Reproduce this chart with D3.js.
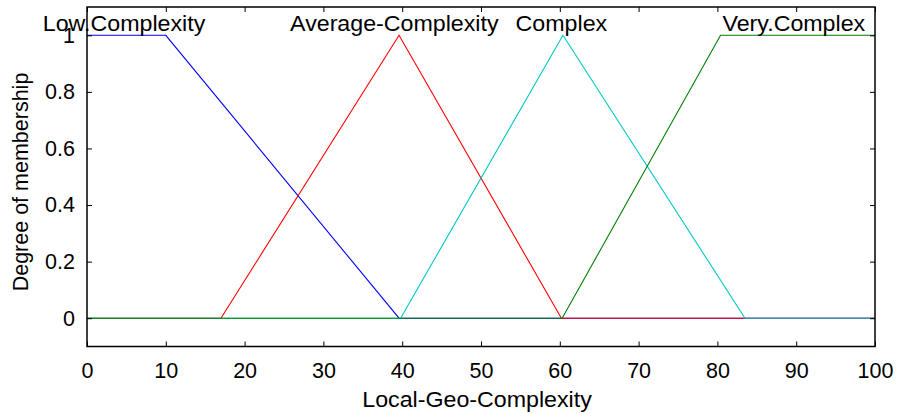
<!DOCTYPE html>
<html><head><meta charset="utf-8">
<script src="https://cdn.jsdelivr.net/npm/d3@7"></script>
<style>
html,body{margin:0;padding:0;background:#fff;}
svg{display:block;font-family:"Liberation Sans",Arial,sans-serif;}
</style></head>
<body><svg id="chart" width="898" height="414"></svg>
<script>
// Membership function breakpoints (x) and membership values (y)
const lowX = [0, 10, 39.6, 100];
const lowY = [1, 1, 0, 0];
const avgX = [0, 17, 39.6, 60.2, 100];
const avgY = [0, 0, 1, 0, 0];
const cpxX = [0, 39.8, 60.4, 83.5, 100];
const cpxY = [0, 0, 1, 0, 0];
const vcxX = [0, 60.3, 80.4, 100];
const vcxY = [0, 0, 1, 1];
const seriesNames = ["Low.Complexity", "Average-Complexity", "Complex", "Very.Complex"];
const labelX = [4.7, 39.0, 60.2, 89.7];
const xTicks = [0,10,20,30,40,50,60,70,80,90,100];
const yTicks = [0,0.2,0.4,0.6,0.8,1];
const xTitle = "Local-Geo-Complexity";
const yTitle = "Degree of membership";

const colors = ["#0000ff", "#ff0000", "#00c8c8", "#008000"];
const L = 87, R = 875, T = 7, B = 346.5;
const svg = d3.select("#chart");
const x = d3.scaleLinear().domain([0,100]).range([L,R]);
const y = d3.scaleLinear().domain([-0.1,1.1]).range([B,T]);
const fs = "21.5px";
const sx = 1.08;

const series = [[lowX,lowY],[avgX,avgY],[cpxX,cpxY],[vcxX,vcxY]];
const line = d3.line().x(d=>x(d[0])).y(d=>y(d[1]));
series.forEach((s,i)=>{
  const pts = s[0].map((v,j)=>[v, s[1][j]]);
  svg.append("path").attr("d", line(pts)).attr("fill","none")
    .attr("stroke", colors[i]).attr("stroke-width", 1.1);
});

// axes with inward ticks
const tl = 5;
svg.append("g").attr("transform",`translate(0,${B})`)
  .call(d3.axisBottom(x).tickValues(xTicks).tickSize(-tl).tickPadding(tl+11).tickFormat(d3.format("d")))
  .call(g=>{g.select(".domain").remove();g.selectAll("text").style("font-size",fs).attr("fill","#000");});
svg.append("g").attr("transform",`translate(0,${T})`)
  .call(d3.axisTop(x).tickValues(xTicks).tickSize(-tl).tickFormat(""))
  .call(g=>g.select(".domain").remove());
svg.append("g").attr("transform",`translate(${L},0)`)
  .call(d3.axisLeft(y).tickValues(yTicks).tickSize(-tl).tickPadding(tl+7).tickFormat(d=>d===0||d===1?String(d):d3.format(".1f")(d)))
  .call(g=>{g.select(".domain").remove();g.selectAll("text").style("font-size",fs).attr("fill","#000");});
svg.append("g").attr("transform",`translate(${R},0)`)
  .call(d3.axisRight(y).tickValues(yTicks).tickSize(-tl).tickFormat(""))
  .call(g=>g.select(".domain").remove());
svg.selectAll(".tick line").attr("stroke","#000");

svg.append("rect").attr("x",L).attr("y",T).attr("width",R-L).attr("height",B-T)
  .attr("fill","none").attr("stroke","#000").attr("stroke-width",1.5);

// series labels
seriesNames.forEach((n,i)=>{
  svg.append("text").attr("transform",`translate(${x(labelX[i])},31) scale(${sx},1)`).attr("text-anchor","middle")
    .style("font-size",fs).attr("fill","#000").text(n);
});

svg.append("text").attr("transform",`translate(${(L+R)/2-4},407) scale(${sx},1)`).attr("text-anchor","middle")
  .style("font-size",fs).attr("fill","#000").text(xTitle);
svg.append("text").attr("transform",`translate(28,182) rotate(-90)`).attr("text-anchor","middle")
  .style("font-size",fs).attr("fill","#000").text(yTitle);
</script></body></html>
